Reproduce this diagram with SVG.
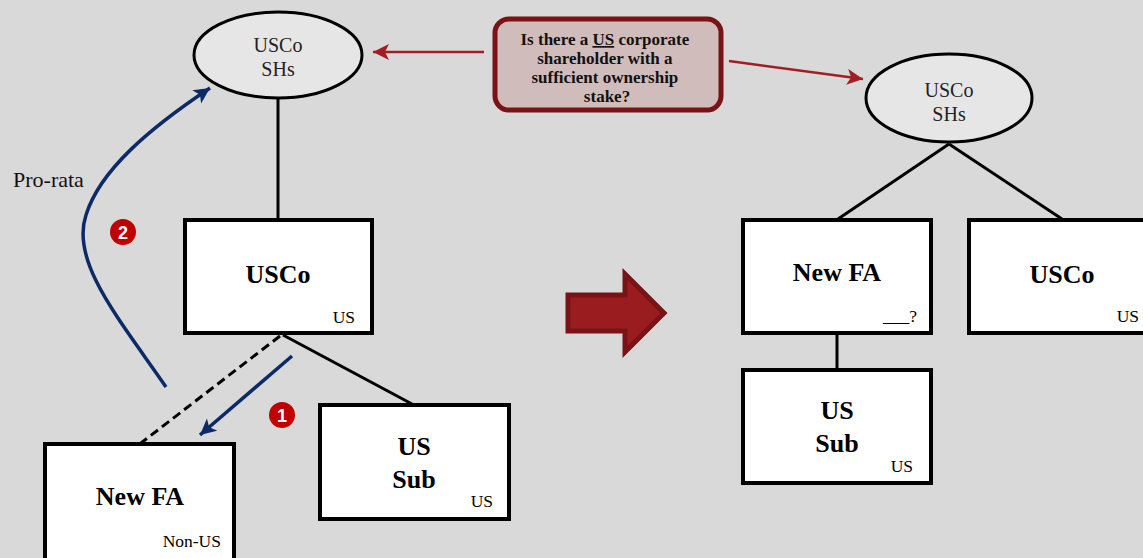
<svg xmlns="http://www.w3.org/2000/svg" width="1143" height="558" viewBox="0 0 1143 558">
<defs>
<style>
.box{fill:#fff;stroke:#000;stroke-width:4}
.ell{fill:#e6e6e6;stroke:#000;stroke-width:3}
.ln{stroke:#000;stroke-width:3;fill:none}
.big{font-family:"Liberation Serif",serif;font-weight:bold;font-size:26px;text-anchor:middle;fill:#000}
.sm{font-family:"Liberation Serif",serif;font-size:17.5px;text-anchor:end;fill:#000}
.el{font-family:"Liberation Serif",serif;font-size:20px;text-anchor:middle;fill:#222}
.blue{stroke:#0b2a66;stroke-width:3.5;fill:none}
.red{stroke:#a21e23;stroke-width:2.5;fill:none}
.num{font-family:"Liberation Sans",sans-serif;font-weight:bold;font-size:18px;fill:#fff;text-anchor:middle}
</style>
<marker id="ab" markerUnits="userSpaceOnUse" markerWidth="20" markerHeight="20" refX="16" refY="8" orient="auto"><path d="M0,0 L16,8 L0,16 L4,8 z" fill="#0b2a66"/></marker>
<marker id="ar" markerUnits="userSpaceOnUse" markerWidth="20" markerHeight="20" refX="16" refY="8" orient="auto"><path d="M0,0 L16,8 L0,16 L4,8 z" fill="#a21e23"/></marker>
</defs>
<rect width="1143" height="558" fill="#d9d9d9"/>
<g id="connectors">
<line class="ln" x1="278" y1="99" x2="278" y2="220"/>
<line class="ln" x1="283" y1="335" x2="412" y2="404"/>
<line class="ln" x1="280" y1="336" x2="141" y2="443" stroke-dasharray="9,5"/>
<line class="ln" x1="949" y1="144" x2="838" y2="219"/>
<line class="ln" x1="949" y1="144" x2="1062" y2="219"/>
<line class="ln" x1="837" y1="334" x2="837" y2="370"/>
<line class="blue" x1="292" y1="356" x2="200" y2="435" marker-end="url(#ab)"/>
<path class="blue" d="M166,387 C120,320 70,262 86,215 C100,170 150,128 210,88" marker-end="url(#ab)"/>
<line class="red" x1="484" y1="52" x2="373" y2="52" marker-end="url(#ar)"/>
<line class="red" x1="729" y1="61" x2="863" y2="79" marker-end="url(#ar)"/>
</g>
<g id="usco-shs-left">
<ellipse class="ell" cx="278" cy="55" rx="84" ry="43"/>
<text class="el" x="278" y="52">USCo</text>
<text class="el" x="278" y="76">SHs</text>
</g>
<g id="usco-left">
<rect class="box" x="185" y="220" width="187" height="113"/>
<text class="big" x="278" y="283">USCo</text>
<text class="sm" x="355" y="323">US</text>
</g>
<g id="newfa-left">
<rect class="box" x="45" y="444" width="189" height="116"/>
<text class="big" x="140" y="505">New FA</text>
<text class="sm" x="221" y="547">Non-US</text>
</g>
<g id="ussub-left">
<rect class="box" x="320" y="405" width="189" height="114"/>
<text class="big" x="414" y="455">US</text>
<text class="big" x="414" y="488">Sub</text>
<text class="sm" x="493" y="507">US</text>
</g>
<g id="callout">
<rect x="495" y="19" width="226" height="91" rx="14" fill="#d1bcbc" stroke="#7a1315" stroke-width="5"/>
<text font-family="Liberation Serif,serif" font-weight="bold" font-size="17" text-anchor="middle" fill="#111">
<tspan x="607" y="45">Is there a <tspan text-decoration="underline">US</tspan> corporate</tspan>
<tspan x="607" y="64">shareholder with a</tspan>
<tspan x="607" y="83">sufficient ownership</tspan>
<tspan x="607" y="102">stake?</tspan>
</text>
</g>
<g id="big-arrow">
<path d="M568,295 L625,295 L625,274 L664,313 L625,352 L625,331 L568,331 z" fill="#9b1c1f" stroke="#7a1315" stroke-width="5" stroke-linejoin="miter"/>
</g>
<g id="usco-shs-right">
<ellipse class="ell" cx="949" cy="98" rx="83" ry="44"/>
<text class="el" x="949" y="97">USCo</text>
<text class="el" x="949" y="121">SHs</text>
</g>
<g id="newfa-right">
<rect class="box" x="743" y="220" width="188" height="113"/>
<text class="big" x="837" y="281">New FA</text>
<text class="sm" x="917" y="322">___?</text>
</g>
<g id="usco-right">
<rect class="box" x="969" y="220" width="190" height="113"/>
<text class="big" x="1062" y="283">USCo</text>
<text class="sm" x="1139" y="322">US</text>
</g>
<g id="ussub-right">
<rect class="box" x="743" y="370" width="188" height="113"/>
<text class="big" x="837" y="419">US</text>
<text class="big" x="837" y="452">Sub</text>
<text class="sm" x="913" y="472">US</text>
</g>
<g id="labels">
<text font-family="Liberation Serif,serif" font-size="22" fill="#111" x="13" y="187">Pro-rata</text>
<circle cx="123" cy="232" r="13" fill="#c00000"/>
<text class="num" x="123" y="238.5">2</text>
<circle cx="282" cy="415" r="13" fill="#c00000"/>
<text class="num" x="282" y="421.5">1</text>
</g>
</svg>
